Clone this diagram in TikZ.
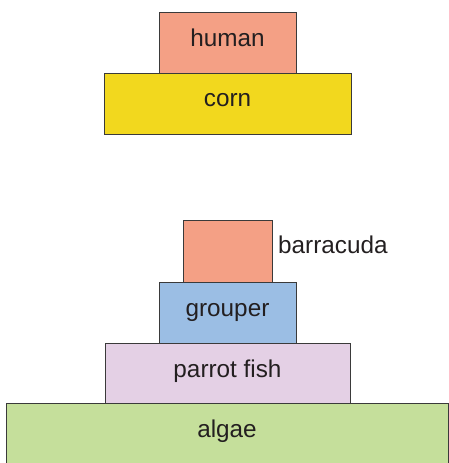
\documentclass[tikz,border=0pt]{standalone}
\usepackage{fontspec}
\setmainfont{Liberation Sans}
\definecolor{salmon}{HTML}{F4A085}
\definecolor{cornyellow}{HTML}{F2D81E}
\definecolor{groupblue}{HTML}{9BBEE4}
\definecolor{lilac}{HTML}{E4D0E5}
\definecolor{algaegreen}{HTML}{C5DF9B}
\definecolor{ink}{HTML}{231F20}
\definecolor{edge}{HTML}{3A3A3A}
\begin{document}
\begin{tikzpicture}[x=1pt,y=-1pt,
  box/.style={draw=edge, line width=1pt, rectangle, inner sep=0pt, text=ink,
    font=\fontsize{24.3}{28}\selectfont},
  lbl/.style={text=ink, inner sep=0pt, font=\fontsize{24.3}{28}\selectfont}]
\useasboundingbox (0,0) rectangle (449,463);
\node[box, fill=salmon, minimum width=137pt, minimum height=61pt] (human) at (227.5,42.5) {\raisebox{10pt}{human}};
\node[box, fill=cornyellow, minimum width=247pt, minimum height=61pt] (corn) at (227.5,103.5) {\raisebox{7pt}{corn}};
\node[box, fill=algaegreen, minimum width=442pt, minimum height=62pt] (algae) at (227,434) {\raisebox{11pt}{algae}};
\node[box, fill=lilac, minimum width=245pt, minimum height=60pt] (parrot) at (227.5,373) {\raisebox{9pt}{parrot fish}};
\node[box, fill=groupblue, minimum width=137pt, minimum height=61pt] (grouper) at (227.5,312.5) {\raisebox{4pt}{grouper}};
\node[box, fill=salmon, minimum width=89pt, minimum height=62pt] (barracuda) at (227.5,251) {};
\node[lbl, anchor=west] (barlabel) at (278,245) {barracuda};
\end{tikzpicture}
\end{document}
